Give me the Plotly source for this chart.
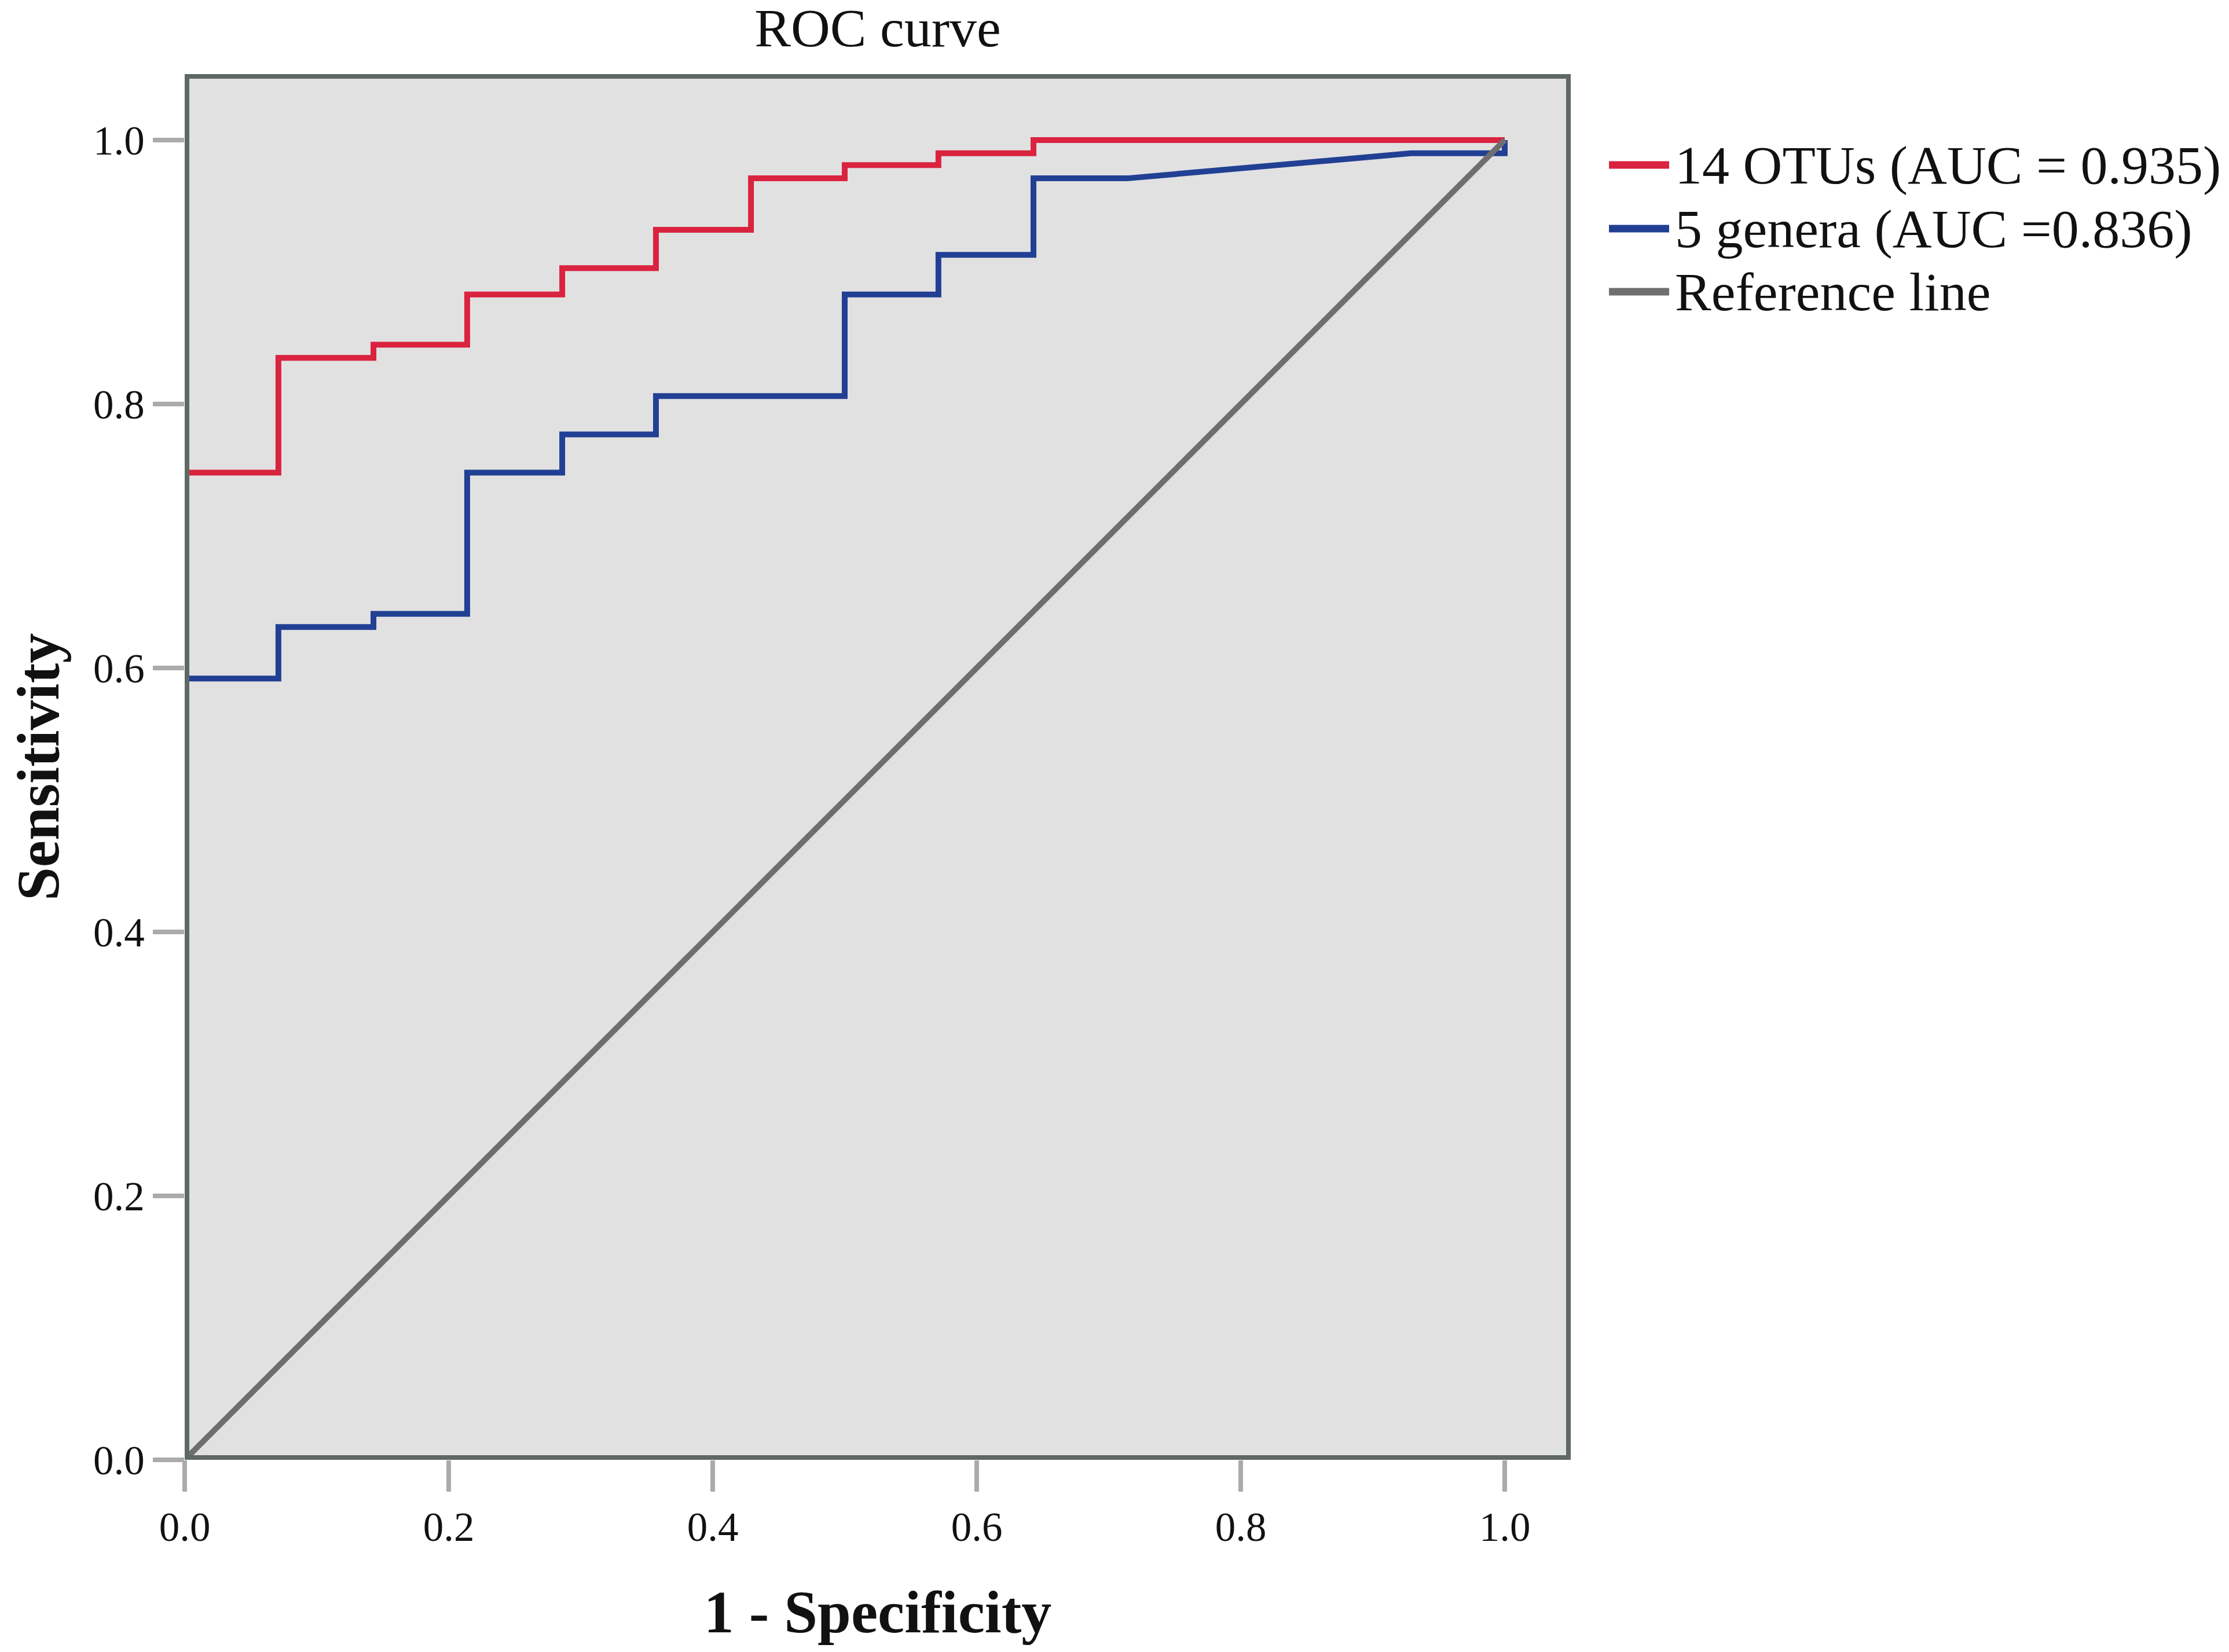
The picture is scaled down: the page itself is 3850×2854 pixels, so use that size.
import plotly.graph_objects as go

# ROC curve data (1 - specificity, sensitivity)
otu_fpr = [0.0, 0.0, 0.071, 0.071, 0.143, 0.143, 0.214, 0.214, 0.286, 0.286, 0.357, 0.357,
           0.429, 0.429, 0.500, 0.500, 0.571, 0.571, 0.643, 0.643, 1.0]
otu_tpr = [0.0, 0.748, 0.748, 0.835, 0.835, 0.845, 0.845, 0.883, 0.883, 0.903, 0.903, 0.932,
           0.932, 0.971, 0.971, 0.981, 0.981, 0.990, 0.990, 1.0, 1.0]

genera_fpr = [0.0, 0.0, 0.071, 0.071, 0.143, 0.143, 0.214, 0.214, 0.286, 0.286, 0.357, 0.357,
              0.500, 0.500, 0.571, 0.571, 0.643, 0.643, 0.714, 0.929, 1.0, 1.0]
genera_tpr = [0.0, 0.592, 0.592, 0.631, 0.631, 0.641, 0.641, 0.748, 0.748, 0.777, 0.777, 0.806,
              0.806, 0.883, 0.883, 0.913, 0.913, 0.971, 0.971, 0.990, 0.990, 1.0]

ref_x = [0.0, 1.0]
ref_y = [0.0, 1.0]

names = ["14 OTUs (AUC = 0.935)", "5 genera (AUC =0.836)", "Reference line"]
colors = ["#d9233f", "#214094", "#6e6e6e"]
tick_vals = [0.0, 0.2, 0.4, 0.6, 0.8, 1.0]

FONT = "Liberation Serif"
W, H = 3842, 2846  # page body has an 8px margin

fig = go.Figure()
series = [(otu_fpr, otu_tpr), (genera_fpr, genera_tpr), (ref_x, ref_y)]
for (xs, ys), name, col in zip(series, names, colors):
    fig.add_trace(go.Scatter(x=xs, y=ys, mode="lines", name=name, showlegend=False,
                             line=dict(color=col, width=10)))

# plot frame centred on the axis edges, drawn above the curves
fig.add_shape(type="rect", xref="x", yref="y", x0=0, x1=1.05, y0=0, y1=1.05,
              line=dict(color="#5e6864", width=16), layer="above")

# legend drawn by hand so the key lines are as long as in the original
leg_y = [0.9344, 0.8885, 0.8429]
for name, col, yy in zip(names, colors, leg_y):
    fig.add_shape(type="line", xref="paper", yref="paper", x0=1.0276, x1=1.0710, y0=yy, y1=yy,
                  line=dict(color=col, width=13))
    fig.add_annotation(text=name, xref="paper", yref="paper", x=1.0745, y=yy,
                       xanchor="left", yanchor="middle", showarrow=False,
                       font=dict(family=FONT, size=94, color="#111111"))

axis_style = dict(range=[0, 1.05], tickvals=tick_vals, tickformat=".1f",
                  showgrid=False, zeroline=False, showline=False,
                  ticks="outside", ticklen=54, tickwidth=8, tickcolor="#ababab",
                  tickfont=dict(family=FONT, size=71, color="#111111"))

fig.update_xaxes(**axis_style,
                 title=dict(text="1 - Specificity", standoff=70,
                            font=dict(family=FONT, size=104, weight="bold", color="#111111")))
fig.update_yaxes(**axis_style,
                 title=dict(text="Sensitivity", standoff=78,
                            font=dict(family=FONT, size=104, weight="bold", color="#111111")))

fig.update_layout(
    width=W, height=H,
    margin=dict(l=311, r=1137, t=120, b=332, autoexpand=False),
    plot_bgcolor="#e1e1e1", paper_bgcolor="white",
    title=dict(text="ROC curve", x=1508 / W, xanchor="center", y=1 - 6 / H, yref="container",
               yanchor="top", pad=dict(t=0), font=dict(family=FONT, size=94, color="#111111")),
    showlegend=False,
)

fig.write_html("out.html")
